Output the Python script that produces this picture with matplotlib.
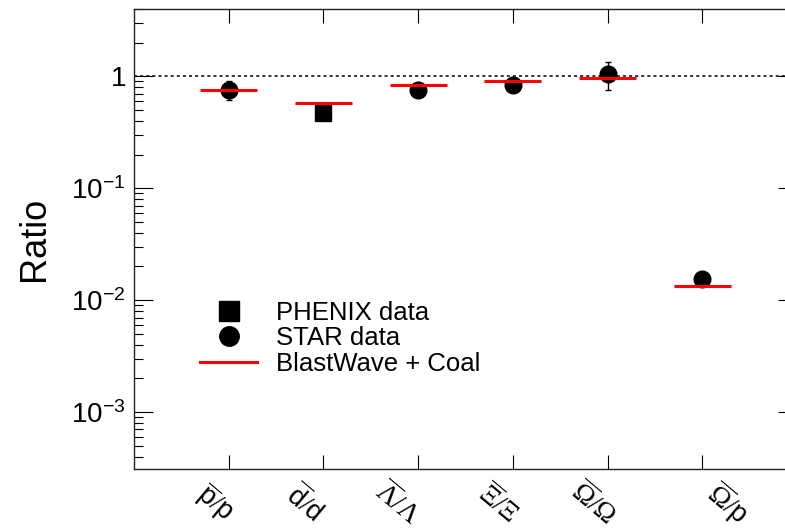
import matplotlib
matplotlib.use("Agg")
import matplotlib.pyplot as plt
from matplotlib.lines import Line2D
import numpy as np

plt.rcParams['font.family'] = ['Liberation Sans', 'DejaVu Sans']
plt.rcParams['mathtext.fontset'] = 'custom'
plt.rcParams['mathtext.rm'] = 'Liberation Serif'
plt.rcParams['mathtext.sf'] = 'Liberation Sans'
plt.rcParams['mathtext.it'] = 'Liberation Sans:italic'

# ---- data ----
categories = [r'$\overline{\mathsf{p}}/\mathsf{p}$',
              r'$\overline{\mathsf{d}}/\mathsf{d}$',
              r'$\overline{\Lambda}/\Lambda$',
              r'$\overline{\Xi}/\Xi$',
              r'$\overline{\Omega}/\Omega$',
              r'$\overline{\Omega}/\mathsf{p}$']
cat_pos = [1, 2, 3, 4, 5, 6]

star_pos = [1, 3, 4, 5, 6]
star_val = [0.76, 0.75, 0.84, 1.05, 0.0155]
star_err = [0.14, 0.03, 0.04, 0.30, 0.0006]

phenix_pos = [2]
phenix_val = [0.47]
phenix_err = [0.03]

model_pos = [1, 2, 3, 4, 5, 6]
model_val = [0.76, 0.58, 0.83, 0.90, 0.975, 0.0133]

ytick_vals = [1e-3, 1e-2, 1e-1, 1]
ytick_labels = [r'$\mathsf{10^{-3}}$', r'$\mathsf{10^{-2}}$', r'$\mathsf{10^{-1}}$', r'$\mathsf{1}$']

# ---- figure ----
fig = plt.figure(figsize=(7.85, 5.31), dpi=100)
ax = fig.add_axes([134/785, 62/531, 663/785, 460/531])
ax.set_yscale('log')
ax.set_xlim(0, 7)
ax.set_ylim(3.1e-4, 4.0)

# reference line at unity
ax.axhline(1.0, color='black', lw=1.1, ls=(0, (2, 2)), zorder=1)

# model
hw = 0.3
ax.hlines(model_val, np.array(model_pos) - hw, np.array(model_pos) + hw,
          color='#ff0000', lw=2.2, zorder=4)

# STAR
ax.errorbar(star_pos, star_val, yerr=star_err, fmt='o', color='black',
            ms=12, elinewidth=1.0, capsize=2, capthick=1.0, zorder=3)
# PHENIX
ax.errorbar(phenix_pos, phenix_val, yerr=phenix_err, fmt='s', color='black',
            ms=12, elinewidth=1.0, capsize=2, capthick=1.0, zorder=3)

# ticks
ax.set_yticks(ytick_vals)
ax.set_yticklabels(ytick_labels, fontsize=20)
ax.tick_params(axis='y', which='major', direction='in', length=13.5, width=0.8,
               left=True, right=True, pad=6)
ax.tick_params(axis='y', which='minor', direction='in', length=6.8, width=0.8,
               left=True, right=True, labelleft=False)
ax.set_xticks(cat_pos)
ax.set_xticklabels([])
ax.tick_params(axis='x', which='major', direction='in', length=10, width=0.8,
               top=True, bottom=True)
ax.tick_params(axis='x', which='minor', bottom=False, top=False)
for s in ax.spines.values():
    s.set_linewidth(1.0)
    s.set_color('#222222')

# category labels (rotated, ROOT style)
label_dx = [-0.15, -0.20, -0.22, -0.16, -0.15, 0.27]
for p, lab, dx in zip(cat_pos, categories, label_dx):
    ax.text(p + dx, -0.075, lab, transform=ax.get_xaxis_transform(),
            rotation=-40, ha='center', va='center', rotation_mode='anchor',
            fontsize=19.5)

ax.set_ylabel('Ratio', fontsize=26)
ax.yaxis.set_label_coords(-0.124, 0.5)

# legend
handles = [Line2D([], [], ls='none', marker='s', color='black', ms=14),
           Line2D([], [], ls='none', marker='o', color='black', ms=14),
           Line2D([], [], color='#ff0000', lw=2.2)]
labels = ['PHENIX data', 'STAR data', 'BlastWave + Coal']
leg = ax.legend(handles, labels, loc='upper left', frameon=False,
                bbox_to_anchor=(200/785, 1 - 301/531), bbox_transform=fig.transFigure,
                fontsize=18.5, handlelength=2.22, handletextpad=0.74,
                labelspacing=0.05, borderpad=0, borderaxespad=0)

fig.savefig('out.png', dpi=100)
